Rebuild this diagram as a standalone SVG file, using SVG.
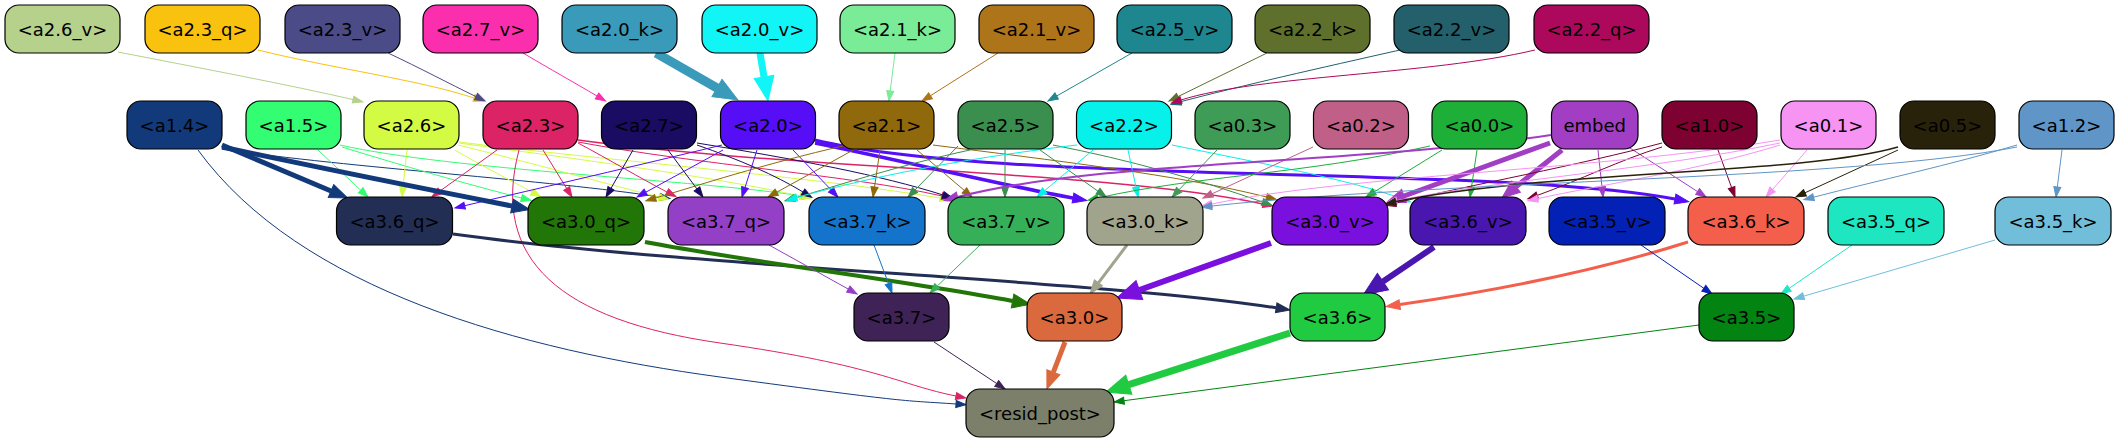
<svg xmlns="http://www.w3.org/2000/svg" width="2118" height="443" viewBox="0 0 2118 443">
<style>
.n rect{stroke:#000;stroke-width:1.2}
.n text{font-family:"DejaVu Sans",sans-serif;font-size:18px;fill:#000;text-anchor:middle}
#edges path{fill:none}
.s{marker-end:url(#ms)}
.m{marker-end:url(#mm)}
.l{marker-end:url(#ml)}
.x{marker-end:url(#mx)}
</style>
<defs>
<marker id="ms" markerUnits="userSpaceOnUse" markerWidth="12" markerHeight="9" viewBox="0 -4.5 12 9" refX="0" refY="0" orient="auto" overflow="visible"><path d="M0,-3.5L10,0L0,3.5z" fill="context-stroke" stroke="context-stroke" stroke-width="1"/></marker>
<marker id="mm" markerUnits="userSpaceOnUse" markerWidth="16" markerHeight="12" viewBox="0 -6 16 12" refX="0" refY="0" orient="auto" overflow="visible"><path d="M0,-5L14,0L0,5z" fill="context-stroke" stroke="context-stroke" stroke-width="1"/></marker>
<marker id="ml" markerUnits="userSpaceOnUse" markerWidth="20" markerHeight="16" viewBox="0 -8 20 16" refX="0" refY="0" orient="auto" overflow="visible"><path d="M0,-7L18,0L0,7z" fill="context-stroke" stroke="context-stroke" stroke-width="1"/></marker>
<marker id="mx" markerUnits="userSpaceOnUse" markerWidth="26" markerHeight="22" viewBox="0 -11 26 22" refX="0" refY="0" orient="auto" overflow="visible"><path d="M0,-10L24,0L0,10z" fill="context-stroke" stroke="context-stroke" stroke-width="1"/></marker>
</defs>
<rect width="2118" height="443" fill="#fff"/>
<g id="edges">
<path class="s" stroke="#b5d18c" d="M118,52 C200,68 290,85 353,99.6"/>
<path class="s" stroke="#f9c20f" d="M258,50 C330,68 420,80 474,98"/>
<path class="s" stroke="#4b4b88" d="M388,53 C420,68 450,84 476,96.6"/>
<path class="s" stroke="#fb2fae" d="M523,53 C550,69 575,83 597,96"/>
<path class="x" stroke="#3a9aba" stroke-width="9" d="M656,53 L717,88"/>
<path class="x" stroke="#12f5f7" stroke-width="7" d="M760,53 L764,77"/>
<path class="s" stroke="#7aeb97" d="M895,53 L890.2,91"/>
<path class="s" stroke="#ae7419" d="M998,53 L930.5,95.7"/>
<path class="s" stroke="#1e868e" d="M1132,53 L1056.7,96"/>
<path class="s" stroke="#5e702c" d="M1267,53 L1178,96.6"/>
<path class="s" stroke="#23606b" d="M1400,50 C1320,68 1240,86 1180.7,101.7"/>
<path class="s" stroke="#ac095c" d="M1535,50 C1430,75 1260,75 1181,100"/>
<path class="s" stroke="#123a7a" d="M222,149 C350,168 550,180 660,197"/>
<path class="s" stroke="#123a7a" d="M198,150 C300,290 520,350 720,377 S900,400 956,404"/>
<path class="s" stroke="#33fd72" d="M318,150 L360.7,190.2"/>
<path class="s" stroke="#33fd72" d="M342,147 C400,165 470,185 521.5,198"/>
<path class="s" stroke="#33fd72" d="M340,145 C450,170 700,180 802,196"/>
<path class="s" stroke="#d4fb43" d="M407,150 L403,187"/>
<path class="s" stroke="#d4fb43" d="M455,150 C480,165 510,180 532,192"/>
<path class="s" stroke="#d4fb43" d="M458,145 C540,165 610,185 659,197"/>
<path class="s" stroke="#d4fb43" d="M459,142 C600,160 800,175 940,198"/>
<path class="s" stroke="#d4fb43" d="M459,143 C600,162 720,178 800,196"/>
<path class="s" stroke="#dc2365" d="M497,150 L440,191"/>
<path class="s" stroke="#dc2365" d="M519,150 C490,260 560,320 720,343 S900,385 956,396"/>
<path class="s" stroke="#dc2365" d="M543,150 L566.7,188.5"/>
<path class="s" stroke="#dc2365" d="M578,143 C610,160 640,178 667,192"/>
<path class="s" stroke="#dc2365" stroke-width="1.5" d="M578,140 C800,170 1100,170 1263,204"/>
<path class="s" stroke="#dc2365" d="M578,142 C700,165 850,175 942,196"/>
<path class="s" stroke="#1a0b63" d="M633,150 L611,188.3"/>
<path class="s" stroke="#1a0b63" d="M668,150 L697,189"/>
<path class="s" stroke="#1a0b63" d="M697,145 C740,160 775,175 803,192"/>
<path class="s" stroke="#1a0b63" d="M697,143 C800,160 880,175 943,195"/>
<path class="s" stroke="#550ef5" d="M722,145 C640,165 540,188 464.7,205.7"/>
<path class="s" stroke="#550ef5" d="M723,150 L645.8,192.2"/>
<path class="s" stroke="#550ef5" d="M757,150 L745,187.5"/>
<path class="s" stroke="#550ef5" d="M793,150 L831,189.8"/>
<path class="m" stroke="#550ef5" stroke-width="3.5" d="M815,143 C900,160 1000,185 1073,198"/>
<path class="m" stroke="#550ef5" stroke-width="3" d="M815,140 C1000,185 1500,165 1675,199"/>
<path class="s" stroke="#90690d" d="M847,145 C760,165 700,185 655.5,198"/>
<path class="s" stroke="#90690d" d="M855,149 L776.8,192.2"/>
<path class="s" stroke="#90690d" d="M880,150 L874.5,187"/>
<path class="s" stroke="#90690d" d="M917,150 L964.4,190.5"/>
<path class="s" stroke="#90690d" d="M933,145 C1050,160 1180,175 1266.5,197"/>
<path class="s" stroke="#3a8e4e" d="M970,150 C900,165 840,185 794.6,198"/>
<path class="s" stroke="#3a8e4e" d="M958,146 L915,190"/>
<path class="s" stroke="#3a8e4e" d="M1005,150 L1005,187"/>
<path class="s" stroke="#3a8e4e" d="M1040,150 L1098,191.2"/>
<path class="s" stroke="#3a8e4e" d="M1053,145 C1130,160 1200,180 1262.5,202"/>
<path class="s" stroke="#06f1ea" d="M1077,145 C950,160 860,180 796.7,197.5"/>
<path class="s" stroke="#06f1ea" d="M1093,150 L1044.7,190.6"/>
<path class="s" stroke="#06f1ea" d="M1128,150 L1136,187.2"/>
<path class="s" stroke="#06f1ea" d="M1172,145 C1270,165 1350,180 1401.3,198.5"/>
<path class="s" stroke="#3f9c57" d="M1217,150 L1179,189.8"/>
<path class="s" stroke="#c06088" d="M1313,147 L1212,193.8"/>
<path class="s" stroke="#1daf38" d="M1430,146 C1300,175 1200,175 1097.8,198"/>
<path class="s" stroke="#1daf38" d="M1442,150 L1374.5,191.7"/>
<path class="s" stroke="#1daf38" d="M1477,150 L1471.5,187"/>
<path class="l" stroke="#a13ec4" stroke-width="5" d="M1550,143 L1404,196"/>
<path class="l" stroke="#a13ec4" stroke-width="5" d="M1562,150 L1516,186.7"/>
<path class="s" stroke="#a13ec4" d="M1598,150 L1602,187"/>
<path class="s" stroke="#a13ec4" d="M1630,148 L1697.6,191.6"/>
<path class="m" stroke="#a13ec4" stroke-width="2" d="M1551,135 C1350,165 1100,160 957.6,197"/>
<path class="s" stroke="#7d0231" d="M1662,147 C1620,160 1580,180 1537.3,195.4"/>
<path class="s" stroke="#7d0231" d="M1718,150 L1731.6,187.6"/>
<path class="s" stroke="#7d0231" d="M1662,143 C1580,165 1470,185 1395.5,203"/>
<path class="s" stroke="#f793f3" d="M1807,150 L1772.6,189.5"/>
<path class="s" stroke="#f793f3" d="M1780,145 C1700,170 1600,185 1537.7,198.6"/>
<path class="s" stroke="#f793f3" d="M1780,143 C1650,170 1500,180 1396.7,200.5"/>
<path class="s" stroke="#f793f3" d="M1780,140 C1600,170 1350,175 1211.8,204"/>
<path class="s" stroke="#29220a" d="M1898,150 L1805,192.8"/>
<path class="s" stroke="#29220a" stroke-width="1.5" d="M1898,147 C1800,175 1550,170 1395.7,201.6"/>
<path class="s" stroke="#5f95c7" d="M2017,145 C1950,165 1880,180 1813.6,197.2"/>
<path class="s" stroke="#5f95c7" d="M2062,150 L2057.3,187"/>
<path class="s" stroke="#5f95c7" d="M2017,147 C1850,180 1450,180 1211.8,206"/>
<path class="l" stroke="#123a7a" stroke-width="5" d="M222,145 L331,191"/>
<path class="l" stroke="#123a7a" stroke-width="5" d="M222,147 C320,168 420,188 512,206"/>
<path class="m" stroke="#232e54" stroke-width="3" d="M453,234 C700,268 1100,280 1276.2,307.8"/>
<path class="l" stroke="#227608" stroke-width="4" d="M645,242 C750,262 900,280 1012.6,301"/>
<path class="s" stroke="#9340c6" d="M769,245 L848.3,289.1"/>
<path class="s" stroke="#1474cc" d="M874,245 L888.5,283.6"/>
<path class="s" stroke="#35b059" d="M980,245 L937.2,286.1"/>
<path class="m" stroke="#a0a48c" stroke-width="3" d="M1127,245 L1098.4,282.8"/>
<path class="x" stroke="#7a10de" stroke-width="6" d="M1271,243 L1139.4,290"/>
<path class="x" stroke="#4a16b0" stroke-width="6" d="M1434,247 L1383,281.6"/>
<path class="m" stroke="#f45f4b" stroke-width="3" d="M1688,242 C1600,270 1500,290 1399.8,304.6"/>
<path class="s" stroke="#0321b5" d="M1641,245 L1703.8,288.3"/>
<path class="s" stroke="#1de6c0" d="M1852,245 L1789.2,288.3"/>
<path class="s" stroke="#71bedb" d="M1995,240 L1803.6,296.2"/>
<path class="s" stroke="#3f2356" d="M934,342 L996.7,383.5"/>
<path class="l" stroke="#da6a3e" stroke-width="5" d="M1065,342 L1053.4,372.2"/>
<path class="x" stroke="#20ca41" stroke-width="7" d="M1290,333 L1128.8,384.7"/>
<path class="s" stroke="#028312" d="M1699,325 L1124,400.7"/>
</g>
<g id="n_a2_6_v" class="n"><rect x="5" y="5" width="115" height="48" rx="14" fill="#b5d18c"/><text x="62.5" y="35.5">&lt;a2.6_v&gt;</text></g>
<g id="n_a2_3_q" class="n"><rect x="145" y="5" width="115" height="48" rx="14" fill="#f9c20f"/><text x="202.5" y="35.5">&lt;a2.3_q&gt;</text></g>
<g id="n_a2_3_v" class="n"><rect x="285" y="5" width="115" height="48" rx="14" fill="#4b4b88"/><text x="342.5" y="35.5">&lt;a2.3_v&gt;</text></g>
<g id="n_a2_7_v" class="n"><rect x="423" y="5" width="115" height="48" rx="14" fill="#fb2fae"/><text x="480.5" y="35.5">&lt;a2.7_v&gt;</text></g>
<g id="n_a2_0_k" class="n"><rect x="562" y="5" width="115" height="48" rx="14" fill="#3a9aba"/><text x="619.5" y="35.5">&lt;a2.0_k&gt;</text></g>
<g id="n_a2_0_v" class="n"><rect x="702" y="5" width="115" height="48" rx="14" fill="#12f5f7"/><text x="759.5" y="35.5">&lt;a2.0_v&gt;</text></g>
<g id="n_a2_1_k" class="n"><rect x="840" y="5" width="115" height="48" rx="14" fill="#7aeb97"/><text x="897.5" y="35.5">&lt;a2.1_k&gt;</text></g>
<g id="n_a2_1_v" class="n"><rect x="979" y="5" width="115" height="48" rx="14" fill="#ae7419"/><text x="1036.5" y="35.5">&lt;a2.1_v&gt;</text></g>
<g id="n_a2_5_v" class="n"><rect x="1117" y="5" width="115" height="48" rx="14" fill="#1e868e"/><text x="1174.5" y="35.5">&lt;a2.5_v&gt;</text></g>
<g id="n_a2_2_k" class="n"><rect x="1255" y="5" width="115" height="48" rx="14" fill="#5e702c"/><text x="1312.5" y="35.5">&lt;a2.2_k&gt;</text></g>
<g id="n_a2_2_v" class="n"><rect x="1394" y="5" width="115" height="48" rx="14" fill="#23606b"/><text x="1451.5" y="35.5">&lt;a2.2_v&gt;</text></g>
<g id="n_a2_2_q" class="n"><rect x="1534" y="5" width="115" height="48" rx="14" fill="#ac095c"/><text x="1591.5" y="35.5">&lt;a2.2_q&gt;</text></g>
<g id="n_a1_4" class="n"><rect x="127" y="101" width="95" height="48" rx="14" fill="#123a7a"/><text x="174.5" y="131.5">&lt;a1.4&gt;</text></g>
<g id="n_a1_5" class="n"><rect x="246" y="101" width="95" height="48" rx="14" fill="#33fd72"/><text x="293.5" y="131.5">&lt;a1.5&gt;</text></g>
<g id="n_a2_6" class="n"><rect x="364" y="101" width="95" height="48" rx="14" fill="#d4fb43"/><text x="411.5" y="131.5">&lt;a2.6&gt;</text></g>
<g id="n_a2_3" class="n"><rect x="483" y="101" width="95" height="48" rx="14" fill="#dc2365"/><text x="530.5" y="131.5">&lt;a2.3&gt;</text></g>
<g id="n_a2_7" class="n"><rect x="601.5" y="101" width="95" height="48" rx="14" fill="#1a0b63"/><text x="649" y="131.5">&lt;a2.7&gt;</text></g>
<g id="n_a2_0" class="n"><rect x="720.5" y="101" width="95" height="48" rx="14" fill="#550ef5"/><text x="768" y="131.5">&lt;a2.0&gt;</text></g>
<g id="n_a2_1" class="n"><rect x="839" y="101" width="95" height="48" rx="14" fill="#90690d"/><text x="886.5" y="131.5">&lt;a2.1&gt;</text></g>
<g id="n_a2_5" class="n"><rect x="958" y="101" width="95" height="48" rx="14" fill="#3a8e4e"/><text x="1005.5" y="131.5">&lt;a2.5&gt;</text></g>
<g id="n_a2_2" class="n"><rect x="1076.5" y="101" width="95" height="48" rx="14" fill="#06f1ea"/><text x="1124" y="131.5">&lt;a2.2&gt;</text></g>
<g id="n_a0_3" class="n"><rect x="1195" y="101" width="95" height="48" rx="14" fill="#3f9c57"/><text x="1242.5" y="131.5">&lt;a0.3&gt;</text></g>
<g id="n_a0_2" class="n"><rect x="1313.5" y="101" width="95" height="48" rx="14" fill="#c06088"/><text x="1361" y="131.5">&lt;a0.2&gt;</text></g>
<g id="n_a0_0" class="n"><rect x="1432" y="101" width="95" height="48" rx="14" fill="#1daf38"/><text x="1479.5" y="131.5">&lt;a0.0&gt;</text></g>
<g id="n_embed" class="n"><rect x="1551.5" y="101" width="86.5" height="48" rx="14" fill="#a13ec4"/><text x="1594.75" y="131.5">embed</text></g>
<g id="n_a1_0" class="n"><rect x="1662" y="101" width="95" height="48" rx="14" fill="#7d0231"/><text x="1709.5" y="131.5">&lt;a1.0&gt;</text></g>
<g id="n_a0_1" class="n"><rect x="1781" y="101" width="95" height="48" rx="14" fill="#f793f3"/><text x="1828.5" y="131.5">&lt;a0.1&gt;</text></g>
<g id="n_a0_5" class="n"><rect x="1900" y="101" width="95" height="48" rx="14" fill="#29220a"/><text x="1947.5" y="131.5">&lt;a0.5&gt;</text></g>
<g id="n_a1_2" class="n"><rect x="2019" y="101" width="95" height="48" rx="14" fill="#5f95c7"/><text x="2066.5" y="131.5">&lt;a1.2&gt;</text></g>
<g id="n_a3_6_q" class="n"><rect x="336.5" y="197" width="116" height="48" rx="14" fill="#232e54"/><text x="394.5" y="227.5">&lt;a3.6_q&gt;</text></g>
<g id="n_a3_0_q" class="n"><rect x="528" y="197" width="116" height="48" rx="14" fill="#227608"/><text x="586" y="227.5">&lt;a3.0_q&gt;</text></g>
<g id="n_a3_7_q" class="n"><rect x="668" y="197" width="116" height="48" rx="14" fill="#9340c6"/><text x="726" y="227.5">&lt;a3.7_q&gt;</text></g>
<g id="n_a3_7_k" class="n"><rect x="809" y="197" width="116" height="48" rx="14" fill="#1474cc"/><text x="867" y="227.5">&lt;a3.7_k&gt;</text></g>
<g id="n_a3_7_v" class="n"><rect x="948" y="197" width="116" height="48" rx="14" fill="#35b059"/><text x="1006" y="227.5">&lt;a3.7_v&gt;</text></g>
<g id="n_a3_0_k" class="n"><rect x="1087" y="197" width="116" height="48" rx="14" fill="#a0a48c"/><text x="1145" y="227.5">&lt;a3.0_k&gt;</text></g>
<g id="n_a3_0_v" class="n"><rect x="1272" y="197" width="116" height="48" rx="14" fill="#7a10de"/><text x="1330" y="227.5">&lt;a3.0_v&gt;</text></g>
<g id="n_a3_6_v" class="n"><rect x="1410" y="197" width="116" height="48" rx="14" fill="#4a16b0"/><text x="1468" y="227.5">&lt;a3.6_v&gt;</text></g>
<g id="n_a3_5_v" class="n"><rect x="1549" y="197" width="116" height="48" rx="14" fill="#0321b5"/><text x="1607" y="227.5">&lt;a3.5_v&gt;</text></g>
<g id="n_a3_6_k" class="n"><rect x="1688" y="197" width="116" height="48" rx="14" fill="#f45f4b"/><text x="1746" y="227.5">&lt;a3.6_k&gt;</text></g>
<g id="n_a3_5_q" class="n"><rect x="1828" y="197" width="116" height="48" rx="14" fill="#1de6c0"/><text x="1886" y="227.5">&lt;a3.5_q&gt;</text></g>
<g id="n_a3_5_k" class="n"><rect x="1995" y="197" width="116" height="48" rx="14" fill="#71bedb"/><text x="2053" y="227.5">&lt;a3.5_k&gt;</text></g>
<g id="n_a3_7" class="n"><rect x="854" y="293" width="95" height="48" rx="14" fill="#3f2356"/><text x="901.5" y="323.5">&lt;a3.7&gt;</text></g>
<g id="n_a3_0" class="n"><rect x="1027" y="293" width="95" height="48" rx="14" fill="#da6a3e"/><text x="1074.5" y="323.5">&lt;a3.0&gt;</text></g>
<g id="n_a3_6" class="n"><rect x="1290" y="293" width="95" height="48" rx="14" fill="#20ca41"/><text x="1337.5" y="323.5">&lt;a3.6&gt;</text></g>
<g id="n_a3_5" class="n"><rect x="1699" y="293" width="95" height="48" rx="14" fill="#028312"/><text x="1746.5" y="323.5">&lt;a3.5&gt;</text></g>
<g id="n_resid_post" class="n"><rect x="966" y="389" width="148" height="48" rx="14" fill="#7c806a"/><text x="1040" y="419.5">&lt;resid_post&gt;</text></g>
</svg>
